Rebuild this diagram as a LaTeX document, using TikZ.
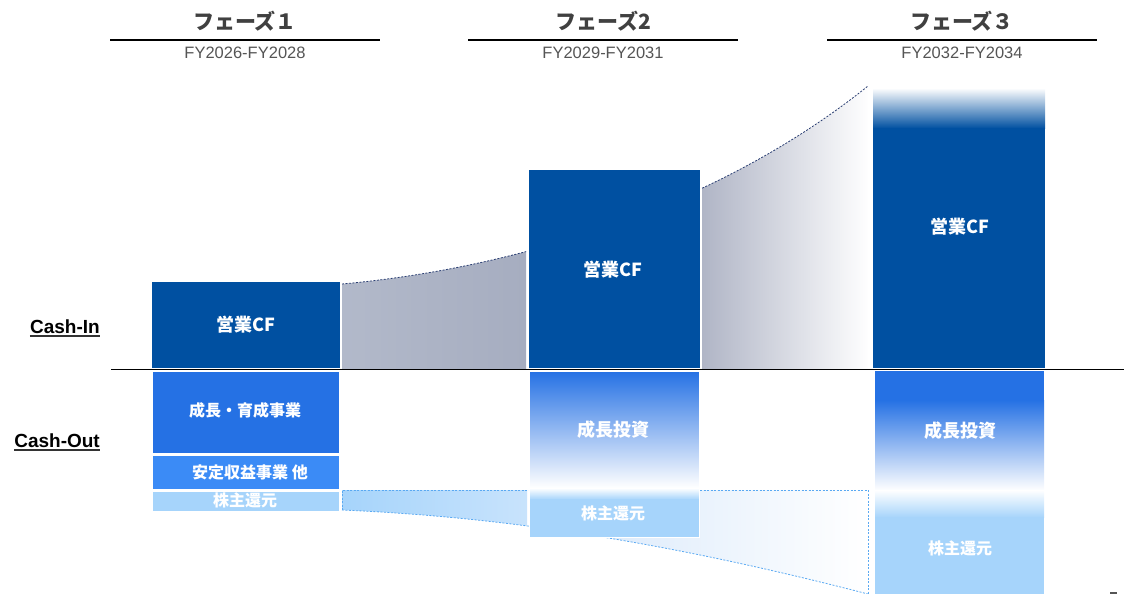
\documentclass[tikz,border=0pt]{standalone}
\usepackage{fontspec}
\setmainfont{Liberation Sans}
\newfontfamily\jp{Noto Sans CJK JP}
\usetikzlibrary{calc}
\definecolor{cfblue}{HTML}{0050A1}
\definecolor{outblue}{HTML}{2571E4}
\definecolor{outblueb}{HTML}{3B8BF6}
\definecolor{lightblue}{HTML}{A6D4FB}
\definecolor{lightblueb}{HTML}{C8E3FC}
\definecolor{paleblue}{HTML}{DDEBFB}
\definecolor{navy}{HTML}{2B3F73}
\definecolor{dashblue}{HTML}{5AA9F2}
\definecolor{grayA}{HTML}{B2B9CA}
\definecolor{grayB}{HTML}{A6ADC0}
\definecolor{grayC}{HTML}{B0B5C6}
\definecolor{hdrgray}{HTML}{404040}
\definecolor{fygray}{HTML}{555555}
\begin{document}
\begin{tikzpicture}[x=1pt,y=-1pt,
  box/.style={rectangle, inner sep=0pt, outer sep=0pt, draw=white, line width=1pt},
  lbl/.style={text=white, font=\jp\bfseries\fontsize{18}{21}\selectfont, inner sep=0pt},
  lbls/.style={text=white, font=\jp\bfseries\fontsize{16}{19}\selectfont, inner sep=0pt},
  hdr/.style={font=\jp\bfseries\fontsize{21}{24}\selectfont, text=hdrgray, inner sep=0pt},
  fy/.style={font=\fontsize{16.5}{19}\selectfont, text=fygray, inner sep=0pt},
  side/.style={font=\bfseries\fontsize{19}{22}\selectfont, anchor=base east, inner sep=0pt, text=black},
  bandline/.style={dash pattern=on 2pt off 1.5pt, line width=0.8pt},
  rule/.style={line width=1.2pt, black}
]
\useasboundingbox (0,0) rectangle (1124,594);

% ---------- headers ----------
\node[hdr] (h1) at (245,21) {フェーズ１};
\node[hdr] (h2) at (603,21) {フェーズ2};
\node[hdr] (h3) at (962,21) {フェーズ３};
\coordinate (l1a) at (110,40); \coordinate (l1b) at (380,40);
\coordinate (l2a) at (468,40); \coordinate (l2b) at (738,40);
\coordinate (l3a) at (827,40); \coordinate (l3b) at (1097,40);
\draw[rule] (l1a) -- (l1b);
\draw[rule] (l2a) -- (l2b);
\draw[rule] (l3a) -- (l3b);
\node[fy] (f1) at (245,53) {FY2026-FY2028};
\node[fy] (f2) at (603,53) {FY2029-FY2031};
\node[fy] (f3) at (962,53) {FY2032-FY2034};

% ---------- gray (cash-in) bands ----------
\begin{scope}
  \clip (342,369) -- (342,284) .. controls (520,268) and (720,205) .. (868,86) -- (868,369) -- cycle;
  \shade[left color=grayA, right color=grayB] (342,60) rectangle (526,369);
  \shade[left color=grayC, right color=white] (702,60) rectangle (870,369);
\end{scope}
\begin{scope}
  \clip (342,60) rectangle (526,369) (702,60) rectangle (870,369);
  \draw[navy, bandline] (342,284) .. controls (520,268) and (720,205) .. (868,86);
\end{scope}

% ---------- light (cash-out) bands ----------
\begin{scope}
  \clip (342,490) -- (868,490) -- (868,594) .. controls (640,535) and (480,516) .. (342,510) -- cycle;
  \shade[left color=lightblue, right color=lightblueb] (342,488) rectangle (527,600);
  \shade[left color=paleblue, right color=white] (600,488) rectangle (868,600);
\end{scope}
\draw[dashblue, bandline] (342,510) -- (342,490) -- (868,490) -- (868,594);
\draw[dashblue, bandline] (342,510) .. controls (480,516) and (640,535) .. (868,594);

% ---------- phase 1 ----------
\node[box, fill=cfblue, minimum width=189pt, minimum height=87pt] (b1cf) at (245.5,324.5) {};
\node[lbl] (t1cf) at (246,325) {営業CF};
\node[box, fill=outblue, minimum width=187pt, minimum height=82pt] (b1g) at (245.5,412) {};
\node[lbls] (t1g) at (245,410) {成長・育成事業};
\node[box, fill=outblueb, minimum width=187pt, minimum height=34pt] (b1s) at (245.5,472) {};
\node[lbls] (t1s) at (250,472) {安定収益事業 他};
\node[box, fill=lightblue, minimum width=187pt, minimum height=20pt] (b1r) at (245.5,501) {};
\node[lbls] (t1r) at (245,500) {株主還元};

% ---------- phase 2 ----------
\node[box, fill=cfblue, minimum width=172pt, minimum height=199pt] (b2cf) at (614,268.5) {};
\node[lbl] (t2cf) at (613,270) {営業CF};
\shade[top color=outblue, bottom color=white] (529,371) rectangle (699,488);
\shade[top color=white, bottom color=lightblue] (529,488) rectangle (699,499.5);
\fill[lightblue] (529,499) rectangle (699,537);
\node[box, minimum width=170pt, minimum height=166pt] (b2out) at (614,454) {};
\node[lbl] (t2g) at (613,430) {成長投資};
\node[lbls] (t2r) at (613,513) {株主還元};

% ---------- phase 3 ----------
\shade[top color=white, bottom color=cfblue] (873,88) rectangle (1045,128.5);
\fill[cfblue] (873,128) rectangle (1045,368);
\node[box, draw=none, minimum width=172pt, minimum height=280pt] (b3cf) at (959,228) {};
\node[lbl] (t3cf) at (960,227) {営業CF};
\fill[outblue] (875,371) rectangle (1044,400.5);
\shade[top color=outblue, bottom color=white] (875,400) rectangle (1044,490.5);
\shade[top color=white, bottom color=lightblue] (875,490) rectangle (1044,517.5);
\fill[lightblue] (875,517) rectangle (1044,594);
\node[box, draw=none, minimum width=169pt, minimum height=223pt] (b3out) at (959.5,482.5) {};
\node[lbl] (t3g) at (960,431) {成長投資};
\node[lbls] (t3r) at (960,548) {株主還元};

% ---------- baseline ----------
\coordinate (base0) at (111,369.5);
\coordinate (base1) at (1124,369.5);
\draw[rule] (base0) -- (base1);

% ---------- side labels ----------
\node[side] (cin) at (100,333) {Cash-In};
\draw[line width=1.6pt, black!80] ([yshift=-3pt]cin.base west) -- ([yshift=-3pt]cin.base east);
\node[side] (cout) at (100,447) {Cash-Out};
\draw[line width=1.6pt, black!80] ([yshift=-3pt]cout.base west) -- ([yshift=-3pt]cout.base east);

% ---------- corner mark ----------
\fill[fygray] (1110,591.5) rectangle (1117,594);
\end{tikzpicture}
\end{document}
